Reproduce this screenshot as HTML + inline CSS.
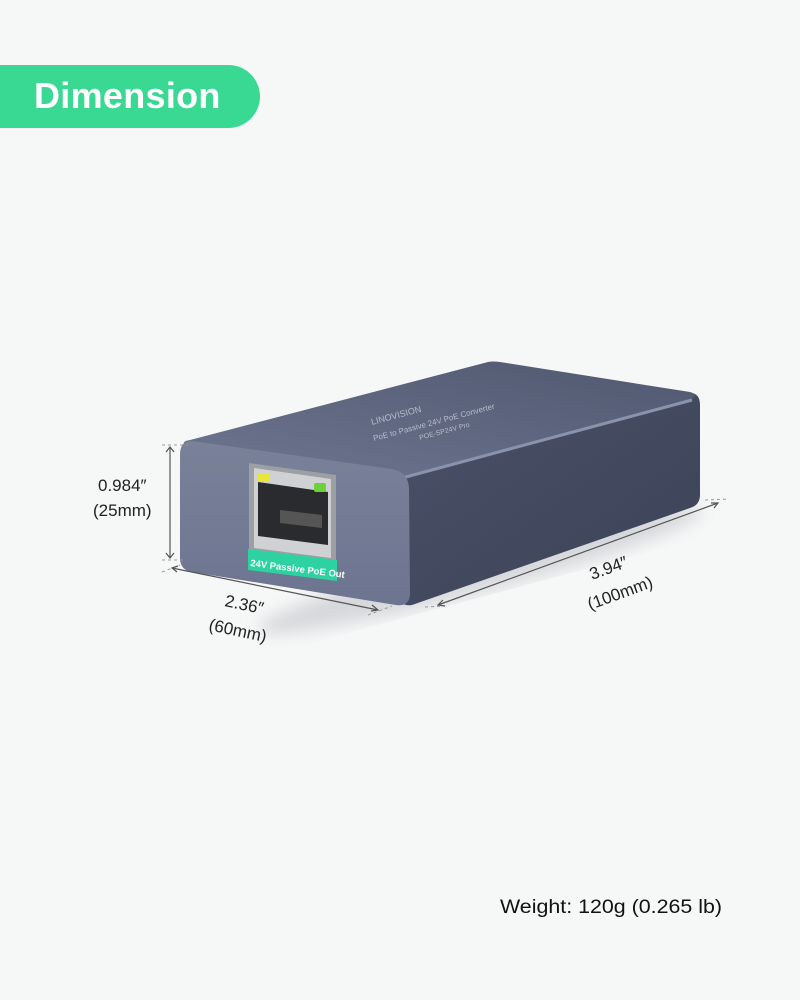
<!DOCTYPE html>
<html><head><meta charset="utf-8"><style>
html,body{margin:0;padding:0}
body{width:800px;height:1000px;background:#f6f7f7;position:relative;overflow:hidden;font-family:"Liberation Sans",sans-serif}
.pill{position:absolute;left:0;top:65px;width:260px;height:63px;background:#3ad993;border-radius:0 32px 32px 0}
.pill span{position:absolute;left:34px;top:10px;color:#fff;font-weight:bold;font-size:36px;letter-spacing:0.3px}
</style></head><body>
<div class="pill"><span>Dimension</span></div>
<svg width="800" height="1000" style="position:absolute;left:0;top:0">
<defs>
<linearGradient id="top" x1="0" y1="1" x2="1" y2="0"><stop offset="0" stop-color="#6e7690"/><stop offset="1" stop-color="#505870"/></linearGradient>
<linearGradient id="side" x1="0" y1="0" x2="1" y2="1"><stop offset="0" stop-color="#4a5168"/><stop offset="1" stop-color="#3c4257"/></linearGradient>
<linearGradient id="front" x1="0" y1="0" x2="0" y2="1"><stop offset="0" stop-color="#7a829a"/><stop offset="1" stop-color="#6c7490"/></linearGradient>
<filter id="sh"><feGaussianBlur stdDeviation="8"/></filter>
</defs>
<ellipse cx="480" cy="570" rx="230" ry="22" fill="#d6d8db" filter="url(#sh)" transform="rotate(-15 480 570)"/>
<path d="M400,475 L688,393 Q700,392 700,405 L700,495 Q700,505 690,508 L412,605 Q400,607 400,595 Z" fill="url(#side)"/>
<path d="M190,440 L488,362 Q492,361 500,362 L690,392 Q700,395 690,400 L405,476 Q398,478 392,474 L190,446 Q178,442 190,440 Z" fill="url(#top)"/>
<path d="M402,478 L692,400" stroke="#8a93ad" stroke-width="3"/>
<path d="M192,441 L392,469 Q408,472 409,488 L410,593 Q410,607 396,605 L192,572 Q180,570 180,558 L180,455 Q180,440 192,441 Z" fill="url(#front)"/>
<path d="M249,463 L336,475 L336,572 L249,560 Z" fill="#9c9fa4"/>
<path d="M254,468 L331,479 L331,558 L254,548 Z" fill="#cfd1d3"/>
<path d="M258,482 L328,492 L328,545 L258,536 Z" fill="#2a2b2e"/>
<path d="M280,510 L322,515 L322,528 L280,523 Z" fill="#555"/>
<rect x="258" y="473" width="12" height="9" rx="2" fill="#e8e63a"/>
<rect x="314" y="483" width="12" height="9" rx="2" fill="#6fd13a"/>
<path d="M248,549 L337,560 L337,581 L248,570 Z" fill="#2cd2a0"/>
<text transform="translate(250,566) rotate(7.2)" font-size="9.5" font-weight="bold" fill="#fff">24V Passive PoE Out</text>
<g fill="#b7bccb" font-size="8">
<text transform="translate(374,441) rotate(-15)">PoE to Passive 24V PoE Converter</text>
<text transform="translate(372,425) rotate(-15)" font-size="9">LINOVISION</text>
<text transform="translate(420,440) rotate(-15)" font-size="7">POE-SP24V Pro</text>
</g>
<g stroke="#999" stroke-width="1" stroke-dasharray="3,3" fill="none">
<path d="M162,445 L188,445"/><path d="M162,560 L185,560"/>
<path d="M162,572 L180,565"/><path d="M368,615 L392,606"/>
<path d="M705,500 L728,499"/><path d="M425,607 L445,606"/>
</g>
<g stroke="#555" stroke-width="1.2" fill="none">
<path d="M170,447 L170,558"/><path d="M166,452 L170,447 L174,452"/><path d="M166,553 L170,558 L174,553"/>
<path d="M172,568 L378,610"/><path d="M178,566 L172,568 L177,572"/><path d="M372,605 L378,610 L371,611"/>
<path d="M438,605 L718,503"/><path d="M443,600 L438,605 L445,606"/><path d="M711,503 L718,503 L714,508"/>
</g>
<g font-size="17" fill="#222">
<text x="98" y="491">0.984″</text>
<text x="93" y="516">(25mm)</text>
<text transform="translate(224,606) rotate(12)">2.36″</text>
<text transform="translate(208,630) rotate(12)">(60mm)</text>
<text transform="translate(592,580) rotate(-20)">3.94″</text>
<text transform="translate(590,610) rotate(-20)">(100mm)</text>
</g>
<text x="500" y="913" font-size="19.5" fill="#111" textLength="222" lengthAdjust="spacingAndGlyphs">Weight: 120g (0.265 lb)</text>
</svg>
</body></html>
